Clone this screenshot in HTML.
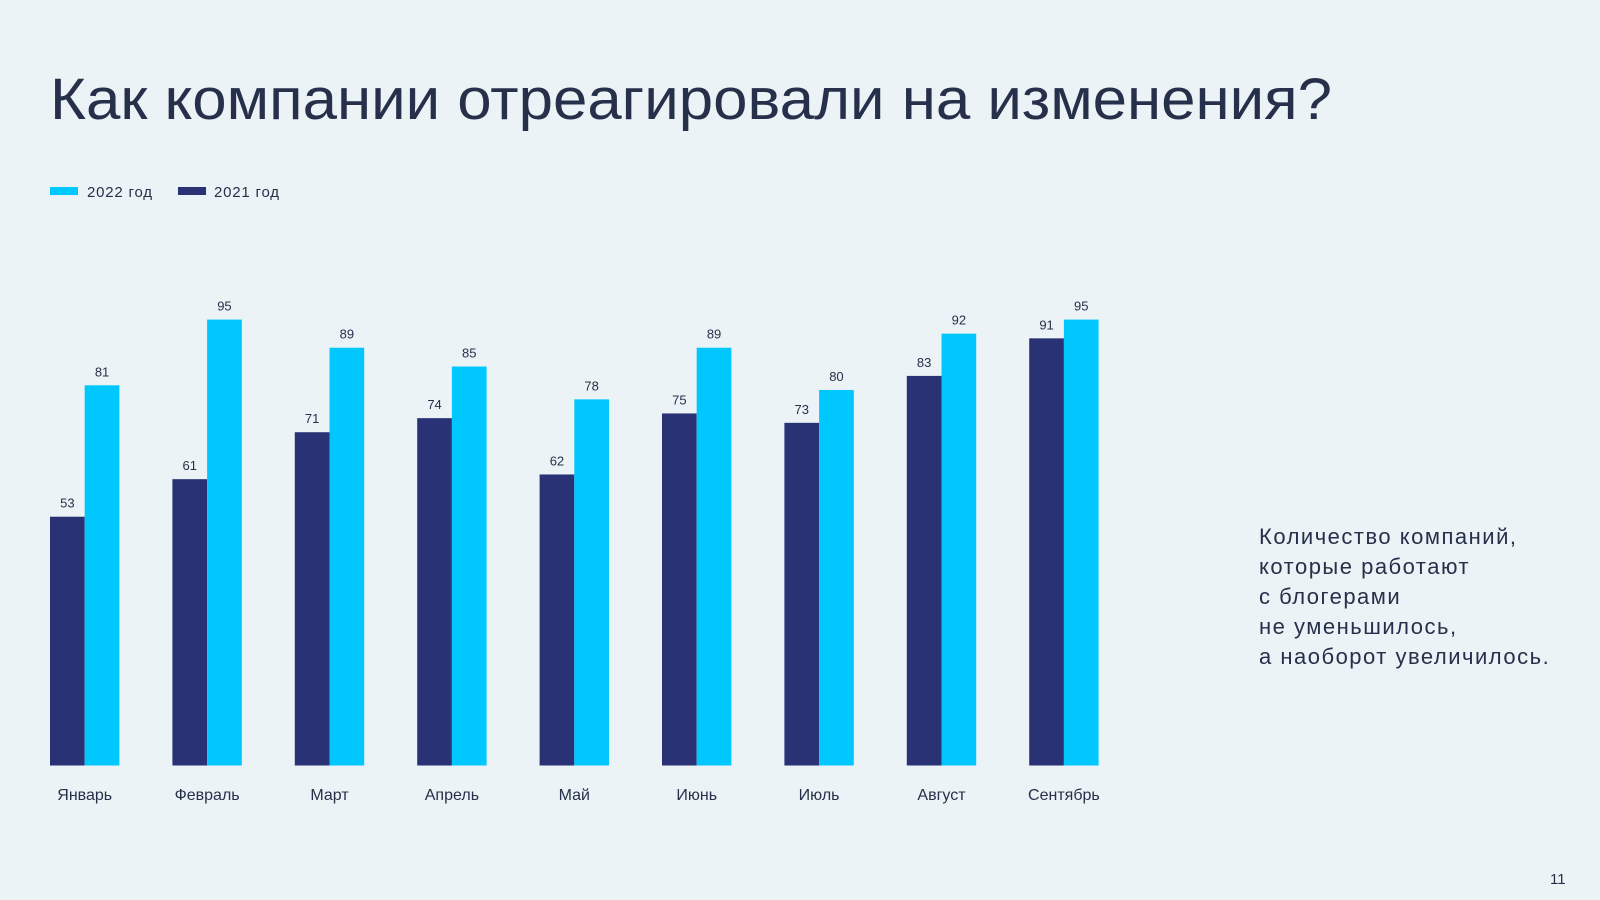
<!DOCTYPE html>
<html><head><meta charset="utf-8"><style>
html,body{margin:0;padding:0;background:#ebf3f6;}
svg{display:block;font-family:"Liberation Sans",sans-serif;}
</style></head><body>
<svg id="chart" width="1600" height="900" viewBox="0 0 1600 900">
<rect width="1600" height="900" fill="#ebf3f6"/>
<text x="50" y="119" font-size="58" fill="#27304a" textLength="1282" lengthAdjust="spacingAndGlyphs">Как компании отреагировали на изменения?</text>
<g>
<rect x="50" y="187" width="28" height="8" fill="#00c8ff"/>
<text x="87" y="197" font-size="15" fill="#27304a" letter-spacing="0.8">2022 год</text>
<rect x="178" y="187" width="28" height="8" fill="#283275"/>
<text x="214" y="197" font-size="15" fill="#27304a" letter-spacing="0.8">2021 год</text>
</g>
<g id="bars"></g>
<g font-size="22" fill="#27304a" letter-spacing="1.5">
<text x="1259" y="544">Количество компаний,</text>
<text x="1259" y="574">которые работают</text>
<text x="1259" y="604">с блогерами</text>
<text x="1259" y="634">не уменьшилось,</text>
<text x="1259" y="664">а наоборот увеличилось.</text>
</g>
<text x="1550" y="884" font-size="15" fill="#27304a">11</text>
</svg>
<script>
const months = ["Январь","Февраль","Март","Апрель","Май","Июнь","Июль","Август","Сентябрь"];
const values2021 = [53,61,71,74,62,75,73,83,91];
const values2022 = [81,95,89,85,78,89,80,92,95];
const NS="http://www.w3.org/2000/svg";
const g=document.getElementById('bars');
const base=765.5, unit=4.694, left=50, step=122.4, bw=34.7;
const y=v=>base-v*unit;
function mk(tag,attrs){const e=document.createElementNS(NS,tag);for(const k in attrs)e.setAttribute(k,attrs[k]);g.appendChild(e);return e;}
months.forEach((m,i)=>{
  const x0=left+i*step;
  const b1=mk('rect',{x:x0,y:y(values2021[i]),width:bw,height:values2021[i]*unit,fill:'#283275'});
  
  
  const b2=mk('rect',{x:x0+bw,y:y(values2022[i]),width:bw,height:values2022[i]*unit,fill:'#00c8ff'});
  
  
  const t1=mk('text',{x:x0+bw/2,y:y(values2021[i])-9,'font-size':13,fill:'#27304a','text-anchor':'middle'});
  t1.textContent=values2021[i];
  
  
  const t2=mk('text',{x:x0+bw*1.5,y:y(values2022[i])-9,'font-size':13,fill:'#27304a','text-anchor':'middle'});
  t2.textContent=values2022[i];
  
  
  const tm=mk('text',{x:x0+bw,y:800,'font-size':16,fill:'#27304a','text-anchor':'middle'});
  tm.textContent=m;
  
  
});
</script>
</body></html>
